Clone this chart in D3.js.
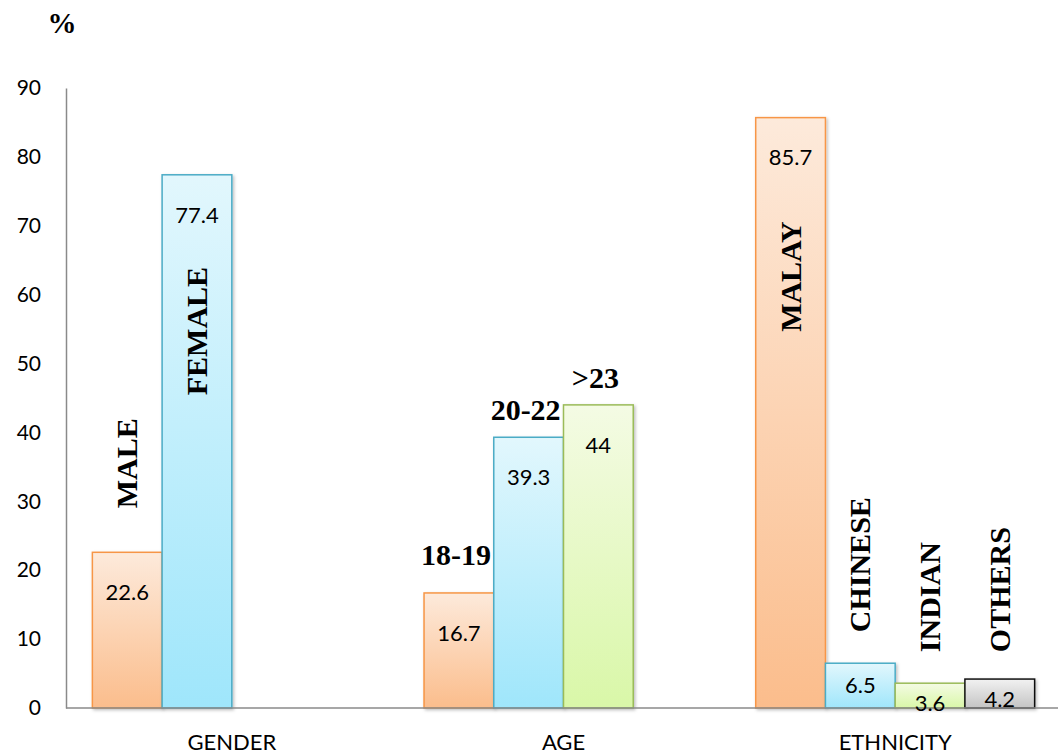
<!DOCTYPE html>
<html>
<head>
<meta charset="utf-8">
<script src="https://cdn.jsdelivr.net/npm/d3@7"></script>
<style>
  html, body { margin: 0; padding: 0; background: #fff; }
  svg { display: block; }
</style>
</head>
<body>
<svg id="chart" width="1058" height="756"></svg>
<script>
// Respondent profile, in percent
const groups = ["GENDER", "AGE", "ETHNICITY"];
const genderNames = ["MALE", "FEMALE"];
const genderValues = [22.6, 77.4];
const ageNames = ["18-19", "20-22", ">23"];
const ageValues = [16.7, 39.3, 44];
const ethnicityNames = ["MALAY", "CHINESE", "INDIAN", "OTHERS"];
const ethnicityValues = [85.7, 6.5, 3.6, 4.2];
const yTicks = [0, 10, 20, 30, 40, 50, 60, 70, 80, 90];

// Where each category name sits, in axis units (bottom of rotated text / baseline of flat text)
const genderNameAt = [29, 45.4];
const ageNameAt = [20.8, 41.8, 46.4];
const ethnicityNameAt = [54.6, 11, 8.1, 8.1];

const rows = [];
function addGroup(group, names, values, nameAt, rotated) {
  names.forEach((n, i) => rows.push({ group, slot: i, name: n, value: values[i], nameAt: nameAt[i], rotated }));
}
addGroup("GENDER", genderNames, genderValues, genderNameAt, true);
addGroup("AGE", ageNames, ageValues, ageNameAt, false);
addGroup("ETHNICITY", ethnicityNames, ethnicityValues, ethnicityNameAt, true);

const palette = [
  { id: "gOrange", top: "#fdeadb", bottom: "#fbbd8c", stroke: "#f79646" },
  { id: "gBlue",   top: "#e2f7fd", bottom: "#9fe6fb", stroke: "#4bacc6" },
  { id: "gGreen",  top: "#f4fbe4", bottom: "#d9f7a8", stroke: "#9bbb59" },
  { id: "gGray",   top: "#f2f2f2", bottom: "#c4c4c4", stroke: "#111111" }
];

const sansFont = "Lato, 'Open Sans', sans-serif";
const serifFont = "'Liberation Serif', 'Times New Roman', serif";

const svg = d3.select("#chart");
const margin = { left: 66, right: 0, top: 88, bottom: 48 };
const W = 1058, H = 756;

const x = d3.scaleBand().domain(groups).range([margin.left, 1061]).paddingInner(0.159).paddingOuter(0.0795);
const xi = d3.scaleBand().domain([0, 1, 2, 3]).range([0, x.bandwidth()]).padding(0);
const y = d3.scaleLinear().domain([0, 90]).range([H - margin.bottom, margin.top]);

const defs = svg.append("defs");
palette.forEach(p => {
  const g = defs.append("linearGradient").attr("id", p.id).attr("x1", 0).attr("y1", 0).attr("x2", 0).attr("y2", 1);
  g.append("stop").attr("offset", "0%").attr("stop-color", p.top);
  g.append("stop").attr("offset", "100%").attr("stop-color", p.bottom);
});
const shadow = defs.append("filter").attr("id", "shadow").attr("x", "-20%").attr("y", "-20%").attr("width", "140%").attr("height", "140%");
shadow.append("feDropShadow").attr("dx", 1.5).attr("dy", 1.5).attr("stdDeviation", 1.5).attr("flood-color", "#000").attr("flood-opacity", 0.25);

// Y axis: labels only, plus a plain grey spine
const yAxis = svg.append("g").attr("transform", `translate(${margin.left},0)`)
  .call(d3.axisLeft(y).tickValues(yTicks).tickSize(0).tickPadding(25));
yAxis.select(".domain").attr("stroke", "#8a8a8a").attr("stroke-width", 1.5);
yAxis.selectAll("text").attr("font-family", sansFont).attr("font-size", 21).attr("fill", "#000");

// Bars
const bars = svg.append("g");
bars.selectAll("rect").data(rows).join("rect")
  .attr("x", d => x(d.group) + xi(d.slot))
  .attr("y", d => y(d.value))
  .attr("width", xi.bandwidth())
  .attr("height", d => y(0) - y(d.value))
  .attr("fill", d => `url(#${palette[d.slot].id})`)
  .attr("stroke", d => palette[d.slot].stroke)
  .attr("stroke-width", 1.5)
  .attr("filter", "url(#shadow)");

// X axis
const xAxis = svg.append("g").attr("transform", `translate(0,${y(0)})`)
  .call(d3.axisBottom(x).tickSize(0).tickPadding(26));
xAxis.select(".domain").attr("stroke", "#8a8a8a").attr("stroke-width", 1.5)
  .attr("d", `M${margin.left},0H${W}`);
xAxis.selectAll("text").attr("font-family", sansFont).attr("font-size", 22).attr("fill", "#000");

// Value labels just inside the top of each bar
svg.append("g").selectAll("text").data(rows).join("text")
  .attr("x", d => x(d.group) + xi(d.slot) + xi.bandwidth() / 2)
  .attr("y", d => {
    const h = y(0) - y(d.value);
    return y(d.value) + Math.min(40, Math.max(h / 2, 20));
  })
  .attr("dy", "0.35em")
  .attr("text-anchor", "middle")
  .attr("font-family", sansFont)
  .attr("font-size", 22)
  .attr("fill", "#000")
  .text(d => d.value);

// Category names
const names = svg.append("g")
  .attr("font-family", serifFont)
  .attr("font-weight", "bold")
  .attr("font-size", 30)
  .attr("fill", "#000");
names.selectAll("text").data(rows).join("text")
  .attr("text-anchor", d => d.rotated ? "start" : "middle")
  .attr("transform", d => {
    const cx = x(d.group) + xi(d.slot) + xi.bandwidth() / 2;
    return d.rotated
      ? `translate(${cx + 10},${y(d.nameAt)}) rotate(-90)`
      : `translate(${cx - 3},${y(d.nameAt)})`;
  })
  .text(d => d.name);

// Unit marker
svg.append("text").attr("x", 62).attr("y", 33).attr("text-anchor", "middle")
  .attr("font-family", serifFont)
  .attr("font-weight", "bold").attr("font-size", 29).text("%");
</script>
</body>
</html>
